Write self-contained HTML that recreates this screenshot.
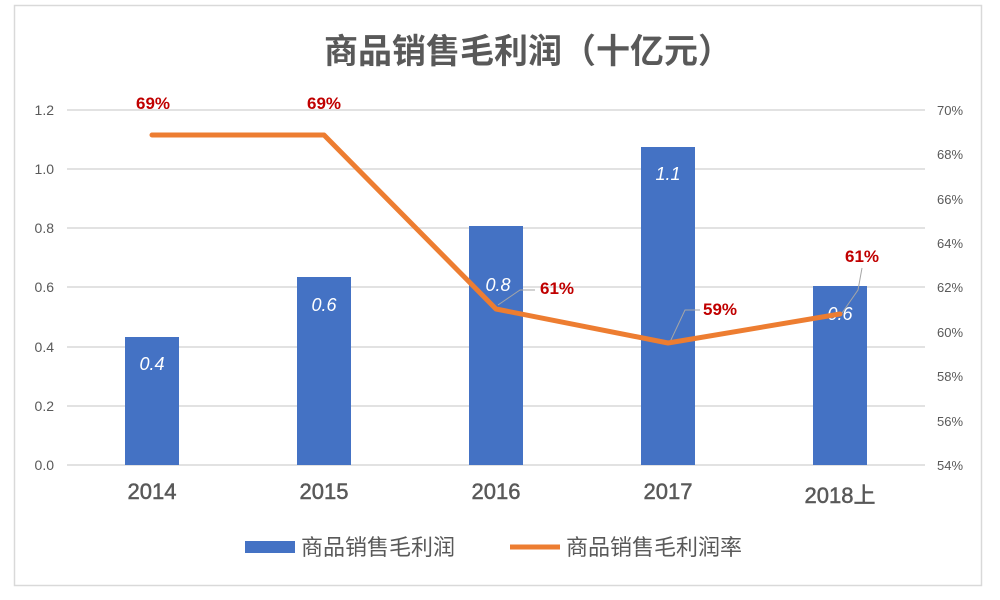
<!DOCTYPE html>
<html><head><meta charset="utf-8"><style>
html,body{margin:0;padding:0;background:#fff;}
svg{display:block;font-family:"Liberation Sans","Noto Sans CJK SC",sans-serif;}
</style></head><body>
<svg width="1000" height="600" viewBox="0 0 1000 600">
<rect x="14.5" y="5.5" width="967" height="580" fill="#fff" stroke="#d9d9d9" stroke-width="1.5"/>
<text x="528" y="63" text-anchor="middle" font-size="34" font-weight="bold" fill="#595959" font-family="'Noto Sans CJK SC',sans-serif">商品销售毛利润（十亿元）</text>
<g stroke="#d9d9d9" stroke-width="1.5">
<line x1="67" x2="925" y1="110" y2="110"/><line x1="67" x2="925" y1="169" y2="169"/>
<line x1="67" x2="925" y1="228" y2="228"/><line x1="67" x2="925" y1="287" y2="287"/>
<line x1="67" x2="925" y1="347" y2="347"/><line x1="67" x2="925" y1="406" y2="406"/>
<line x1="67" x2="925" y1="465" y2="465"/>
</g>
<g font-size="14" fill="#595959" text-anchor="end">
<text x="54" y="115">1.2</text><text x="54" y="174">1.0</text><text x="54" y="233">0.8</text>
<text x="54" y="292">0.6</text><text x="54" y="352">0.4</text><text x="54" y="411">0.2</text><text x="54" y="470">0.0</text>
</g>
<g font-size="13" fill="#595959">
<text x="937" y="115">70%</text><text x="937" y="159">68%</text><text x="937" y="204">66%</text>
<text x="937" y="248">64%</text><text x="937" y="292">62%</text><text x="937" y="337">60%</text>
<text x="937" y="381">58%</text><text x="937" y="426">56%</text><text x="937" y="470">54%</text>
</g>
<g fill="#4472c4">
<rect x="125" y="337" width="54" height="128"/>
<rect x="297" y="277" width="54" height="188"/>
<rect x="469" y="226" width="54" height="239"/>
<rect x="641" y="147" width="54" height="318"/>
<rect x="813" y="286" width="54" height="179"/>
</g>
<g font-size="18" fill="#fff" font-style="italic" text-anchor="middle">
<text x="152" y="370">0.4</text><text x="324" y="311">0.6</text><text x="498" y="291">0.8</text>
<text x="668" y="180">1.1</text><text x="840" y="320">0.6</text>
</g>
<g stroke="#a6a6a6" stroke-width="1" fill="none">
<polyline points="498,305 520,290 535,290"/>
<polyline points="670,342 685,310 700,310"/>
<polyline points="842,313 858,290 862,268"/>
</g>
<polyline points="152,135 324,135 496,309 668,343 840,314" fill="none" stroke="#ed7d31" stroke-width="5" stroke-linejoin="round" stroke-linecap="round"/>
<g font-size="17" fill="#c00000" font-weight="bold" text-anchor="middle">
<text x="153" y="109">69%</text><text x="324" y="109">69%</text>
<text x="557" y="294">61%</text><text x="720" y="315">59%</text><text x="862" y="262">61%</text>
</g>
<g font-size="22" fill="#595959" text-anchor="middle" stroke="#595959" stroke-width="0.5">
<text x="152" y="499">2014</text><text x="324" y="499">2015</text><text x="496" y="499">2016</text>
<text x="668" y="499">2017</text><text x="840" y="503">2018上</text>
</g>
<rect x="245" y="541" width="50" height="12" fill="#4472c4"/>
<text x="301" y="555" font-size="22" fill="#595959">商品销售毛利润</text>
<line x1="510" x2="560" y1="547" y2="547" stroke="#ed7d31" stroke-width="5"/>
<text x="566" y="555" font-size="22" fill="#595959">商品销售毛利润率</text>
</svg>
</body></html>
